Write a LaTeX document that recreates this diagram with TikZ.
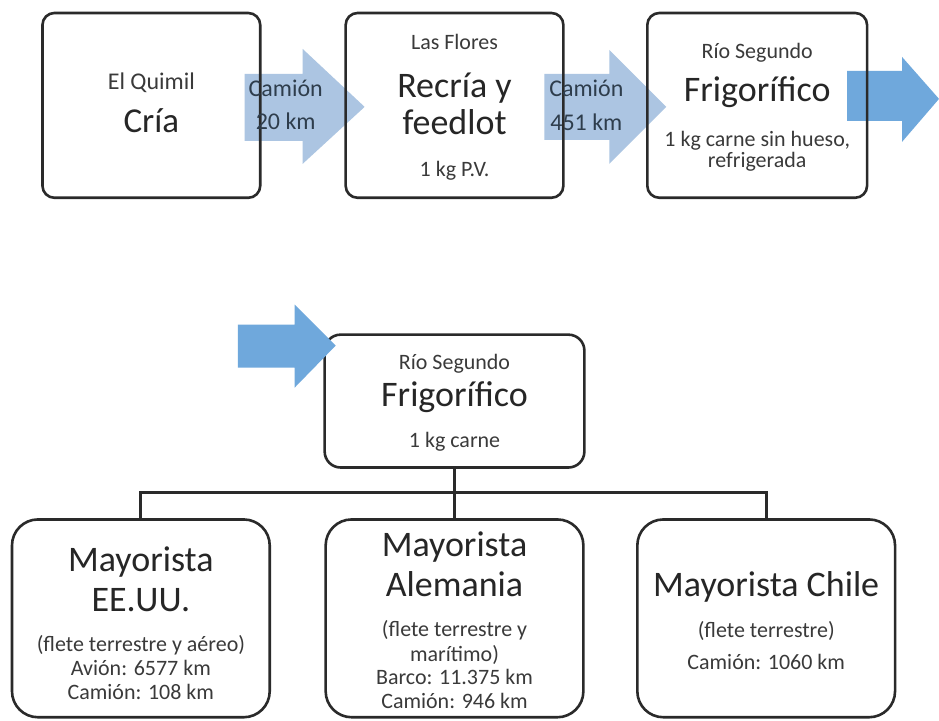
\documentclass[tikz,border=0pt]{standalone}
\usepackage{fontspec}
\setmainfont{Carlito}
\usetikzlibrary{positioning}
\definecolor{Ink}{HTML}{262626}
\definecolor{Soft}{HTML}{3A3A3A}
\definecolor{Slate}{HTML}{2E3D4C}
\definecolor{Frame}{HTML}{2A2A2A}
\definecolor{PaleBlue}{HTML}{ACC5E2}
\definecolor{Blue}{HTML}{6FA8DC}
\tikzset{
  stage/.style={rectangle,rounded corners=6pt,draw=Frame,line width=1.3pt,minimum width=109pt,minimum height=92.5pt,inner sep=0pt},
  hub/.style={stage,rounded corners=8pt,minimum width=130pt,minimum height=66.5pt},
  market/.style={stage,rounded corners=13pt,minimum width=129pt,minimum height=99pt},
  link/.style={draw=Frame,line width=1.4pt},
  palearrow/.style={fill=PaleBlue},
  fullarrow/.style={fill=Blue},
  title/.style={anchor=base,text=Ink,inner sep=0pt,font=\fontsize{18}{20}\selectfont},
  place/.style={anchor=base,text=Soft,inner sep=0pt,font=\fontsize{11}{13}\selectfont},
  note/.style={place},
  cargo/.style={anchor=base,text=Slate,inner sep=0pt,font=\fontsize{12}{14}\selectfont}
}
\begin{document}
\begin{tikzpicture}[x=0.5pt,y=-0.5pt]
  \fill[white] (0,0) rectangle (939,721);

  % transport arrows behind the boxes
  \fill[palearrow] (245,74) -- (303,74) -- (303,49) -- (365,107) -- (303,164) -- (303,141) -- (245,141) -- cycle;
  \fill[palearrow] (545,74) -- (610,74) -- (610,50) -- (667,107) -- (610,164) -- (610,140) -- (545,140) -- cycle;
  \fill[fullarrow] (848,71) -- (903,71) -- (903,57) -- (940,99) -- (903,142) -- (903,121) -- (848,121) -- cycle;

  % first row
  \node[stage] (cria) at (151.5,105.5) {};
  \node[stage] (feedlot) at (455,105.5) {};
  \node[stage,minimum width=110pt] (frigo) at (758,105.5) {};

  \node[place,font=\fontsize{12}{14}\selectfont] (quimil) at (151.5,90) {El Quimil};
  \node[title,font=\fontsize{17.5}{20}\selectfont] (crialab) at (151.5,133) {Cría};

  \node[place] (flores) at (455,50) {Las Flores};
  \node[title] (recria) at (455,98) {Recría y};
  \node[title] (feed) at (455,135) {feedlot};
  \node[note] (pv) at (455,177) {1 kg P.V.};

  \node[place] (rio) at (758,59) {Río Segundo};
  \node[title] (frigolab) at (758,102) {Frigorífico};
  \node[note] (carne) at (758,147) {1 kg carne sin hueso,};
  \node[note] (refri) at (758,168) {refrigerada};

  \node[cargo] (cam1) at (286,97) {Camión};
  \node[cargo] (km1) at (286,130) {20 km};
  \node[cargo] (cam2) at (587,97) {Camión};
  \node[cargo] (km2) at (587,131) {451 km};

  % second row
  \node[hub] (hub) at (455,401.5) {};
  \fill[fullarrow] (238,325) -- (295,325) -- (295,305) -- (336,346) -- (295,388) -- (295,368) -- (238,368) -- cycle;

  \node[place] (rio2) at (455,370) {Río Segundo};
  \node[title] (frigo2) at (455,407) {Frigorífico};
  \node[note] (carne2) at (455,448) {1 kg carne};

  \node[market] (usa) at (141,619) {};
  \node[market] (ger) at (455,619) {};
  \node[market] (chile) at (767,619) {};

  \coordinate (split) at (455,493);
  \draw[link] (hub.south) -- (split);
  \draw[link] (split) -| (usa.north);
  \draw[link] (split) -- (ger.north);
  \draw[link] (split) -| (chile.north);

  \node[title] (usa1) at (141,572) {Mayorista};
  \node[title] (usa2) at (141,612) {EE.UU.};
  \node[note] (usa3) at (141,652) {(flete terrestre y aéreo)};
  \node[note] (usa4) at (141,676) {Avión: 6577 km};
  \node[note] (usa5) at (141,700) {Camión: 108 km};

  \node[title] (ger1) at (455,557) {Mayorista};
  \node[title] (ger2) at (455,597) {Alemania};
  \node[note] (ger3) at (455,637) {(flete terrestre y};
  \node[note] (ger4) at (455,662) {marítimo)};
  \node[note] (ger5) at (455,685) {Barco: 11.375 km};
  \node[note] (ger6) at (455,709) {Camión: 946 km};

  \node[title] (chile1) at (767,597) {Mayorista Chile};
  \node[note] (chile2) at (767,638) {(flete terrestre)};
  \node[note] (chile3) at (767,670) {Camión: 1060 km};
\end{tikzpicture}
\end{document}
